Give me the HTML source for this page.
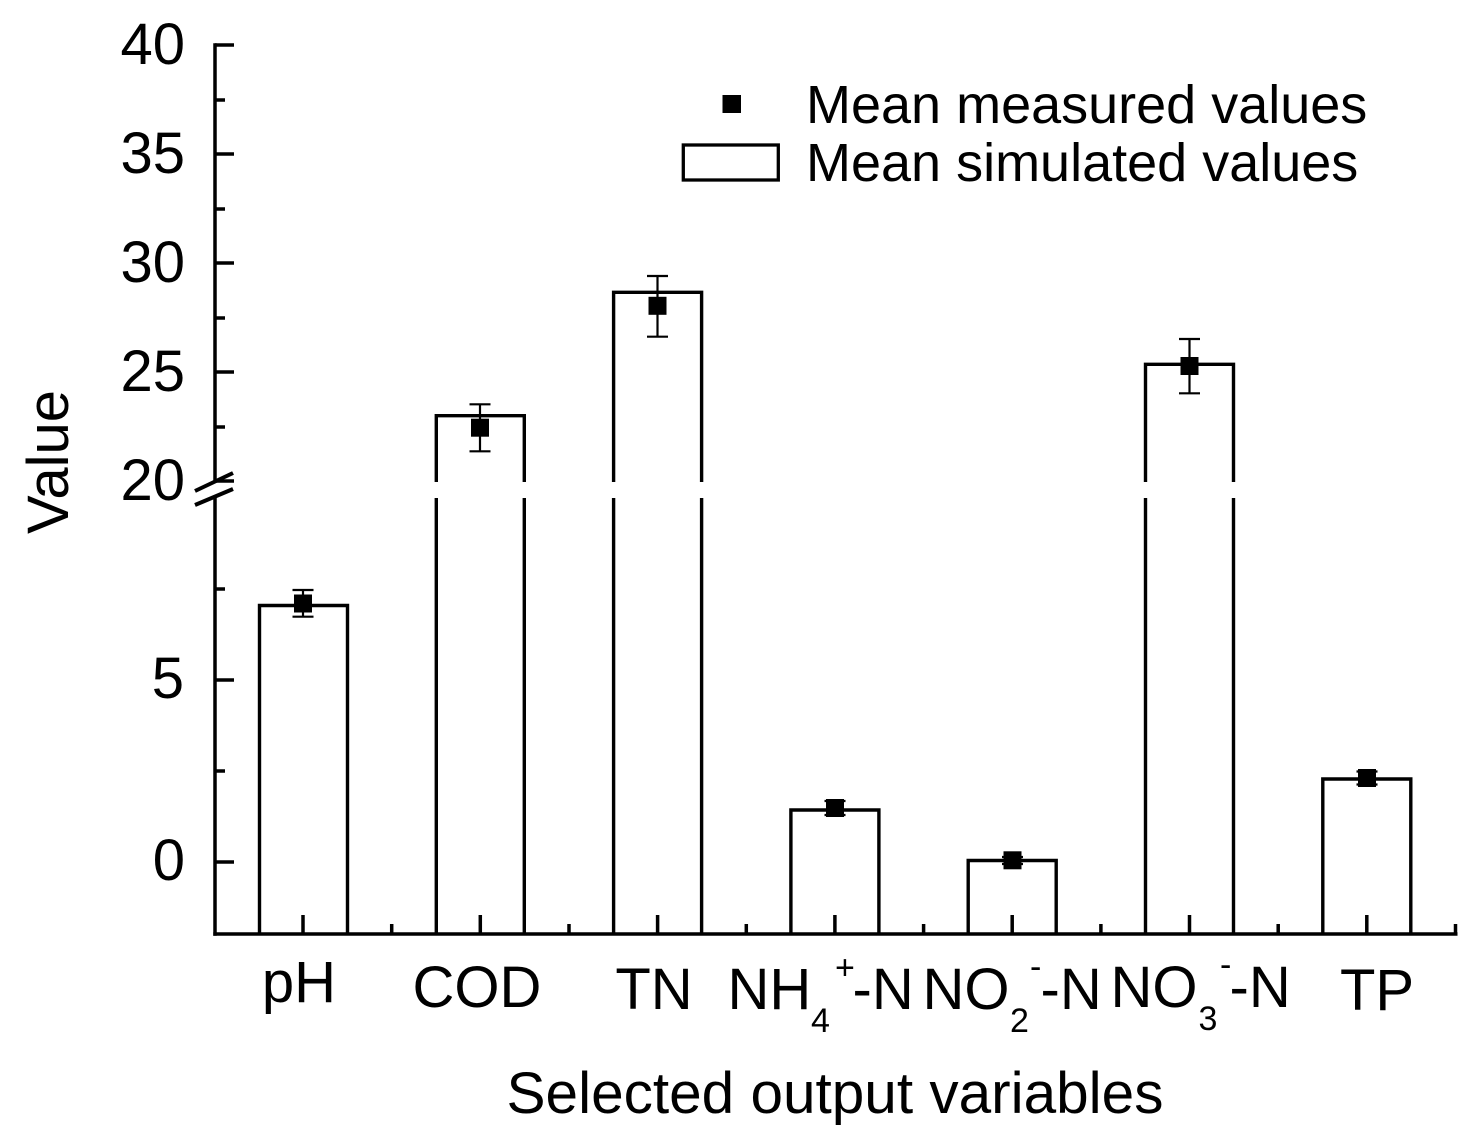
<!DOCTYPE html>
<html>
<head>
<meta charset="utf-8">
<style>
  html, body { margin: 0; padding: 0; background: #fff; }
  svg { display: block; }
  text { font-family: "Liberation Sans", Arial, sans-serif; fill: #000; }
</style>
</head>
<body>
<svg width="1482" height="1142" viewBox="0 0 1482 1142" xmlns="http://www.w3.org/2000/svg">
  <rect x="0" y="0" width="1482" height="1142" fill="#fff"/>

  <!-- Axes -->
  <g stroke="#000" stroke-width="3.5" fill="none" stroke-linecap="butt">
    <path d="M215 43.3 V482"/>
    <path d="M215 497 V935.7"/>
    <path d="M213.3 934 H1457.5"/>

    <path d="M215 45 H234 M215 154 H234 M215 263 H234 M215 372 H234 M215 481 H234"/>
    <path d="M215 100 H225 M215 209 H225 M215 318 H225 M215 427 H225"/>
    <path d="M215 680 H234 M215 862 H234"/>
    <path d="M215 589 H225 M215 771 H225"/>

    <path d="M303 934 V915 M480.3 934 V915 M657.6 934 V915 M834.9 934 V915 M1012.2 934 V915 M1189.5 934 V915 M1366.8 934 V915"/>
    <path d="M391.7 934 V924 M569 934 V924 M746.3 934 V924 M923.6 934 V924 M1100.9 934 V924 M1278.2 934 V924 M1455.5 934 V924"/>
  </g>

  <!-- Axis break marks -->
  <g stroke="#000" stroke-width="4" fill="none">
    <line x1="195" y1="491" x2="233" y2="473"/>
    <line x1="195" y1="505" x2="233" y2="489"/>
  </g>

  <!-- Bars -->
  <g stroke="#000" stroke-width="3.4" fill="none" stroke-linejoin="miter">
    <path d="M259.5 934 V605.5 H347.5 V934"/>
    <path d="M436.3 934 V498 M436.3 482 V415.7 H524.3 V482 M524.3 498 V934"/>
    <path d="M613.6 934 V498 M613.6 482 V292.3 H701.6 V482 M701.6 498 V934"/>
    <path d="M790.9 934 V810 H878.9 V934"/>
    <path d="M968.2 934 V860.5 H1056.2 V934"/>
    <path d="M1145.5 934 V498 M1145.5 482 V364.3 H1233.5 V482 M1233.5 498 V934"/>
    <path d="M1322.8 934 V779 H1410.8 V934"/>
  </g>

  <!-- Error bars -->
  <g stroke="#000" stroke-width="2.2" fill="none">
    <path d="M303 590 V616.7 M292.5 590 H313.5 M292.5 616.7 H313.5"/>
    <path d="M480 404.3 V451.3 M469.5 404.3 H490.5 M469.5 451.3 H490.5"/>
    <path d="M657.5 276 V336.7 M647 276 H668 M647 336.7 H668"/>
    <path d="M835 801 V815 M824.5 801 H845.5 M824.5 815 H845.5"/>
    <path d="M1012.5 857 V864 M1002 857 H1023 M1002 864 H1023"/>
    <path d="M1189.5 339 V393.3 M1179 339 H1200 M1179 393.3 H1200"/>
    <path d="M1367 771.5 V784.5 M1356.5 771.5 H1377.5 M1356.5 784.5 H1377.5"/>
  </g>

  <!-- Markers -->
  <g fill="#000">
    <rect x="294" y="594.5" width="18" height="18"/>
    <rect x="471" y="418.7" width="18" height="18"/>
    <rect x="648.5" y="296.8" width="18" height="18"/>
    <rect x="826" y="799" width="18" height="18"/>
    <rect x="1003.5" y="851.3" width="18" height="18"/>
    <rect x="1180.5" y="357" width="18" height="18"/>
    <rect x="1358" y="769" width="18" height="18"/>
  </g>

  <!-- Y tick labels -->
  <g font-size="58" text-anchor="end">
    <text x="185" y="64">40</text>
    <text x="185" y="173">35</text>
    <text x="185" y="282">30</text>
    <text x="185" y="391">25</text>
    <text x="185" y="500">20</text>
    <text x="184" y="698">5</text>
    <text x="185" y="880">0</text>
  </g>

  <!-- X category labels -->
  <g font-size="58">
    <text x="299" y="1002" text-anchor="middle">pH</text>
    <text x="477" y="1007" text-anchor="middle">COD</text>
    <text x="654" y="1009" text-anchor="middle">TN</text>

    <!-- NH4+-N -->
    <text x="727.5" y="1009">NH</text>
    <text x="811" y="1032" font-size="34">4</text>
    <text x="835" y="979" font-size="34">+</text>
    <text x="852.5" y="1009">-N</text>

    <!-- NO2--N -->
    <text x="922.5" y="1009">NO</text>
    <text x="1010" y="1032" font-size="34">2</text>
    <text x="1030" y="978" font-size="34">-</text>
    <text x="1040.5" y="1009">-N</text>

    <!-- NO3--N -->
    <text x="1110.5" y="1007">NO</text>
    <text x="1198.5" y="1030" font-size="34">3</text>
    <text x="1220" y="976" font-size="34">-</text>
    <text x="1229.5" y="1007">-N</text>

    <text x="1377" y="1010" text-anchor="middle">TP</text>
  </g>

  <!-- Axis titles -->
  <text x="835" y="1113" font-size="58.5" text-anchor="middle">Selected output variables</text>
  <text transform="translate(68,462) rotate(-90)" font-size="58" text-anchor="middle">Value</text>

  <!-- Legend -->
  <rect x="722.5" y="95" width="18.5" height="18" fill="#000"/>
  <rect x="683.3" y="145" width="95" height="35" fill="none" stroke="#000" stroke-width="3.3"/>
  <text x="806" y="123" font-size="54">Mean measured values</text>
  <text x="806" y="181" font-size="54">Mean simulated values</text>
</svg>
</body>
</html>
